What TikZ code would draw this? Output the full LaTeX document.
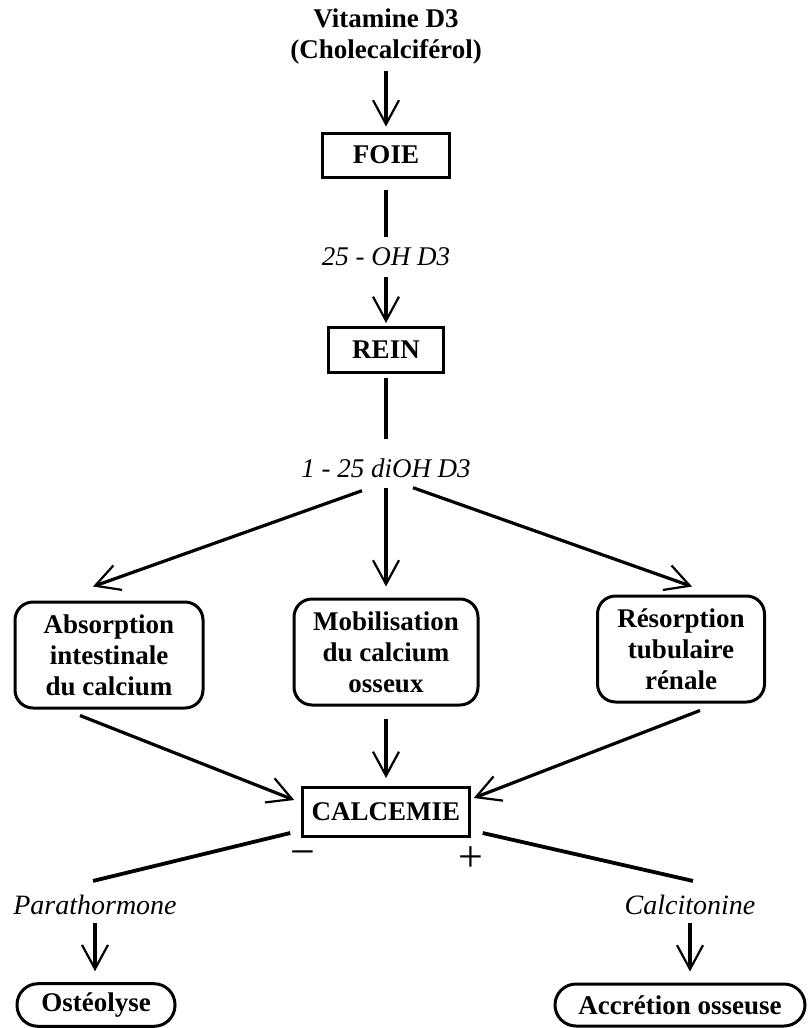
\documentclass[tikz,border=0pt]{standalone}
\usepackage{fontspec}
\setmainfont{Liberation Serif}
\usetikzlibrary{arrows.meta,positioning,calc}
\tikzstyle{block}=[draw, line width=3pt, font=\bfseries]
\tikzstyle{rblock}=[block, rounded corners=18pt, align=center]
\tikzstyle{txt}=[inner sep=0pt]
\tikzstyle{arrow}=[line width=3.2pt,-{Straight Barb[length=24pt,width=26pt,line width=2.2pt]}]
\tikzstyle{link}=[line width=3.8pt]
\begin{document}
\fontsize{27}{31}\selectfont
\begin{tikzpicture}[x=1pt,y=-1pt]
\useasboundingbox (0,0) rectangle (810,1028);
% vitamin chain
\node[txt, align=center, font=\bfseries] (vit) at (386,37) {Vitamine D3\\(Cholecalciférol)};
\node[block, minimum width=127pt, minimum height=44pt] (foie) at (386,155) {FOIE};
\node[txt, font=\itshape] (oh) at (386,257) {25 - OH D3};
\node[block, minimum width=115pt, minimum height=45pt] (rein) at (386,350) {REIN};
\node[txt, font=\itshape] (dioh) at (386,468) {1 - 25 diOH D3};
% effects
\node[rblock, minimum width=188pt, minimum height=106pt] (abs) at (109,655) {Absorption\\intestinale\\du calcium};
\node[rblock, minimum width=184pt, minimum height=106pt] (mob) at (386,652) {Mobilisation\\du calcium\\osseux};
\node[rblock, minimum width=167pt, minimum height=106pt] (res) at (681,649) {Résorption\\tubulaire\\rénale};
\node[block, minimum width=162pt, minimum height=49pt] (calc) at (386,812) {CALCEMIE};
\node[txt, font=\fontsize{44}{44}\selectfont] (minus) at (303,859) {−};
\node[txt, font=\fontsize{44}{44}\selectfont] (plus) at (471,859) {+};
% hormones
\node[txt, font=\itshape\fontsize{28}{31}\selectfont] (para) at (95,905) {Parathormone};
\node[txt, font=\itshape\fontsize{28}{31}\selectfont] (calci) at (690,905) {Calcitonine};
\node[rblock, rounded corners=21pt, minimum width=158pt, minimum height=42pt] (osteo) at (96,1005) {Ostéolyse};
\node[rblock, rounded corners=21pt, minimum width=250pt, minimum height=42pt] (accr) at (680,1005) {Accrétion osseuse};

\draw[arrow, shorten <=6pt, shorten >=5pt] (vit) -- (foie);
\draw[line width=3.2pt, shorten <=11pt, shorten >=11pt] (foie) -- (oh);
\draw[arrow, shorten <=11pt, shorten >=3pt] (oh) -- (rein);
\draw[line width=3.2pt, shorten <=4pt, shorten >=19pt] (rein) -- (dioh);
\draw[arrow] ($(dioh.south)+(-24,13)$) -- ($(abs.north)+(-16,-14)$);
\draw[arrow, shorten <=10pt, shorten >=11pt] (dioh) -- (mob);
\draw[arrow] ($(dioh.south)+(27,10)$) -- ($(res.north)+(11,-8)$);
\draw[arrow] ($(abs.south)+(-29,6)$) -- ($(calc.west)+(-7,-12)$);
\draw[arrow, shorten <=12pt, shorten >=8pt] (mob) -- (calc);
\draw[arrow] ($(res.south)+(19,7)$) -- ($(calc.east)+(3,-14)$);
\draw[link] ($(calc.south west)+(-11,-5)$) -- ($(para.north)+(-2,-14)$);
\draw[link] ($(calc.south east)+(12,-5)$) -- ($(calci.north)+(3,-14)$);
\draw[arrow, shorten <=8pt, shorten >=11pt] (para) -- (para |- osteo.north);
\draw[arrow, shorten <=8pt, shorten >=11pt] (calci) -- (calci |- accr.north);
\end{tikzpicture}
\end{document}
